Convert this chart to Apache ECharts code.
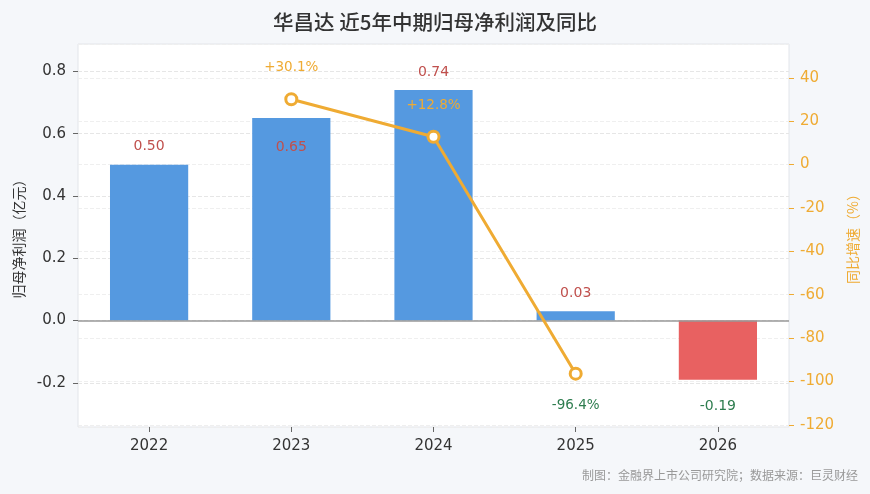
<!DOCTYPE html>
<html>
<head>
<meta charset="utf-8">
<script src="https://cdn.jsdelivr.net/npm/echarts@6/dist/echarts.min.js"></script>
<style>
html,body{margin:0;padding:0;background:#f5f7fa;}
#c{width:870px;height:494px;}
</style>
</head>
<body>
<div id="c"></div>
<script>
var titleText = '华昌达 近5年中期归母净利润及同比';
var footerText = '制图：金融界上市公司研究院；数据来源：巨灵财经';
var categories = ['2022', '2023', '2024', '2025', '2026'];
var profit = [0.50, 0.65, 0.74, 0.03, -0.19];
var yoy = [null, 30.1, 12.8, -96.4, null];
var leftAxisName = '归母净利润（亿元）';
var rightAxisName = '同比增速（%）';

var FONT = '"DejaVu Sans", "Noto Sans CJK SC", sans-serif';
var CJK = '"Noto Sans CJK SC", "DejaVu Sans", sans-serif';
var BLUE = '#5599e0', RED = '#e86161', ORANGE = '#efab33';
var LBL_RED = '#c0504d', LBL_GREEN = '#2e7d4f';

// per-point label offsets (layout only)
var barLabelOffsets = [[0, 0], [0, 47], [0, 0], [0, 0], [0, 0]];

var barData = profit.map(function (v, i) {
  var neg = v < 0;
  return {
    value: v,
    itemStyle: { color: neg ? RED : BLUE },
    label: {
      show: true,
      position: neg ? 'bottom' : 'top',
      distance: neg ? 20 : 11,
      offset: barLabelOffsets[i],
      color: neg ? LBL_GREEN : LBL_RED,
      formatter: function (p) { return p.value.toFixed(2); }
    }
  };
});

var lineData = yoy.map(function (v) {
  if (v === null) return null;
  var neg = v < 0;
  return {
    value: v,
    label: {
      show: true,
      position: neg ? 'bottom' : 'top',
      distance: 18,
      color: neg ? LBL_GREEN : ORANGE,
      formatter: function (p) { return (p.value > 0 ? '+' : '') + p.value.toFixed(1) + '%'; }
    }
  };
});

var chart = echarts.init(document.getElementById('c'), null, { renderer: 'canvas' });
chart.setOption({
  backgroundColor: '#f5f7fa',
  animation: false,
  textStyle: { fontFamily: FONT },
  title: {
    text: titleText,
    left: 'center',
    top: 7,
    textStyle: { fontFamily: CJK, fontSize: 20.5, fontWeight: 500, color: '#333' }
  },
  graphic: [{
    type: 'text',
    right: 12,
    top: 469,
    style: { text: footerText, fontFamily: CJK, fontSize: 12, fill: '#999' }
  }],
  grid: {
    left: 78, right: 81, top: 44, bottom: 67,
    show: true, backgroundColor: '#ffffff', borderColor: '#e2e5ea', borderWidth: 1,
    containLabel: false
  },
  xAxis: {
    type: 'category',
    data: categories,
    axisLine: { show: false, onZero: false },
    axisTick: { show: true, alignWithLabel: true, length: 5, lineStyle: { color: '#666' } },
    axisLabel: { color: '#333', fontSize: 15, margin: 12, fontFamily: FONT }
  },
  yAxis: [{
    type: 'value',
    min: -0.342,
    max: 0.888,
    splitNumber: 6,
    name: leftAxisName,
    nameLocation: 'middle',
    nameRotate: 90,
    nameGap: 49,
    nameTextStyle: { color: '#333', fontSize: 14, fontFamily: CJK },
    axisLine: { show: false },
    axisTick: { show: true, length: 5, lineStyle: { color: '#666' } },
    axisLabel: {
      color: '#333', fontSize: 15, margin: 12, showMinLabel: false, showMaxLabel: false,
      formatter: function (v) { return v.toFixed(1); }
    },
    splitLine: { show: true, lineStyle: { color: '#e6e6e6', type: 'dashed' } }
  }, {
    type: 'value',
    min: -121,
    max: 55.6,
    splitNumber: 9,
    name: rightAxisName,
    nameLocation: 'middle',
    nameRotate: 90,
    nameGap: 57,
    nameTextStyle: { color: ORANGE, fontSize: 14, fontFamily: CJK },
    axisLine: { show: false },
    axisTick: { show: true, length: 5, lineStyle: { color: ORANGE } },
    axisLabel: {
      color: ORANGE, fontSize: 15, margin: 11, showMinLabel: false, showMaxLabel: false
    },
    splitLine: { show: true, lineStyle: { color: '#efefef', type: 'dashed' } }
  }],
  series: [{
    type: 'bar',
    yAxisIndex: 0,
    barWidth: '55%',
    data: barData,
    label: { fontSize: 14, fontFamily: FONT },
    markLine: {
      silent: true,
      symbol: 'none',
      label: { show: false },
      lineStyle: { color: '#999', type: 'solid', width: 1.5 },
      data: [{ yAxis: 0 }]
    },
    z: 2
  }, {
    type: 'line',
    yAxisIndex: 1,
    data: lineData,
    connectNulls: false,
    symbol: 'circle',
    symbolSize: 11,
    lineStyle: { color: ORANGE, width: 3 },
    itemStyle: { color: '#fff', borderColor: ORANGE, borderWidth: 3 },
    label: { fontSize: 13.5, fontFamily: FONT },
    z: 5
  }]
});
</script>
</body>
</html>
